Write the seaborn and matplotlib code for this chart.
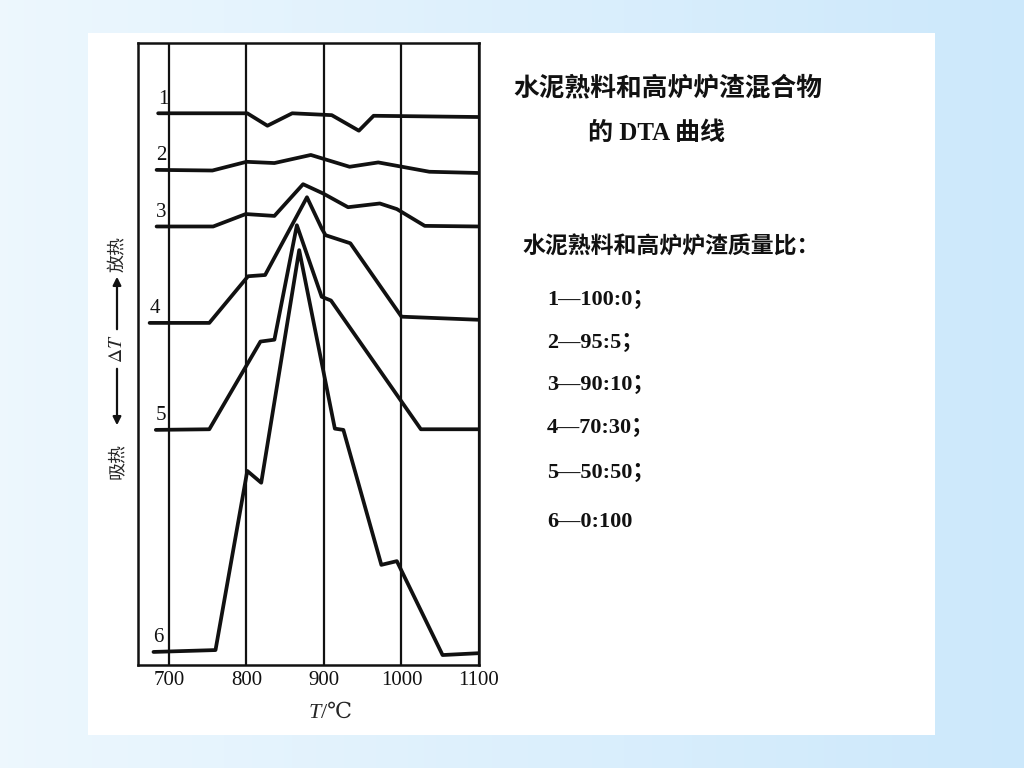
import numpy as np
import pandas as pd
import matplotlib
matplotlib.use('Agg')
import matplotlib.pyplot as plt
from matplotlib.patches import Rectangle
import seaborn as sns

# DTA curves (T in degC, dT in arbitrary offset units 0-100)
t1 = [686, 801, 827, 859, 910, 945, 964, 1100]
d1 = [88.7, 88.7, 86.7, 88.7, 88.4, 85.9, 88.3, 88.1]
t2 = [684, 756, 800, 836, 883, 933, 970, 1036, 1100]
d2 = [79.6, 79.5, 80.9, 80.7, 82.0, 80.1, 80.8, 79.3, 79.1]
t3 = [684, 757, 799, 836, 873, 899, 931, 972, 994, 1030, 1100]
d3 = [70.5, 70.5, 72.5, 72.2, 77.3, 75.8, 73.6, 74.2, 73.3, 70.6, 70.5]
t4 = [675, 752, 802, 824, 878, 897, 902, 934, 1000, 1100]
d4 = [55.0, 55.0, 62.5, 62.7, 75.2, 70.2, 69.1, 67.8, 56.0, 55.5]
t5 = [683, 752, 818, 836, 865, 897, 909, 1025, 1100]
d5 = [37.8, 37.9, 52.0, 52.3, 70.7, 59.2, 58.6, 37.9, 37.9]
t6 = [680, 760, 801, 819, 868, 914, 925, 974, 994, 1053, 1100]
d6 = [2.1, 2.4, 31.2, 29.3, 66.7, 38.0, 37.8, 16.1, 16.7, 1.6, 1.9]

curve_names = ['1', '2', '3', '4', '5', '6']
temps = [t1, t2, t3, t4, t5, t6]
deltas = [d1, d2, d3, d4, d5, d6]

x_ticks = [700, 800, 900, 1000, 1100]
title_lines = ['水泥熟料和高炉炉渣混合物', '的 DTA 曲线']
ratio_title = '水泥熟料和高炉炉渣质量比：'
ratio_items = ['1—100:0；', '2—95:5；', '3—90:10；', '4—70:30；', '5—50:50；', '6—0:100']

rows = []
for name, ts, ds in zip(curve_names, temps, deltas):
    for i, (t, d) in enumerate(zip(ts, ds)):
        rows.append({'curve': name, 'order': i, 'T': t, 'dT': d})
df = pd.DataFrame(rows)

sns.set_style('white')
plt.rcParams['font.family'] = ['Liberation Serif', 'Noto Sans CJK SC', 'DejaVu Sans']
plt.rcParams['mathtext.fontset'] = 'stix'

W, H = 1024, 768
fig = plt.figure(figsize=(W / 100, H / 100), dpi=100)

# slide background: light blue gradient with white panel
bg = fig.add_axes([0, 0, 1, 1], zorder=-5)
c0 = np.array([0.93, 0.97, 0.995])
c1 = np.array([0.80, 0.91, 0.985])
g = np.linspace(0, 1, 256)[None, :, None]
grad = c0 * (1 - g) + c1 * g
bg.imshow(np.repeat(grad, 4, axis=0), extent=(0, W, H, 0), aspect='auto')
bg.add_patch(Rectangle((88, 33), 847, 702, color='white', lw=0))
bg.set_xlim(0, W)
bg.set_ylim(H, 0)
bg.axis('off')

def fx(px):
    return px / W

def fy(py):
    return 1 - py / H

ax = fig.add_axes([fx(138), fy(665), (479 - 138) / W, (665 - 43) / H])
ax.set_facecolor('white')

sns.lineplot(data=df, x='T', y='dT', units='curve', estimator=None, sort=False,
             color='#111111', linewidth=2.7, ax=ax, legend=False)

for name, ts, ds in zip(curve_names, temps, deltas):
    ax.annotate(name, xy=(ts[0], ds[0]), xytext=(5, 14), textcoords='offset pixels',
                ha='center', va='center', fontsize=15, color='#111111')

ax.set_xlim(660, 1100)
ax.set_ylim(0, 100)
ax.set_xticks(x_ticks)
ax.set_yticks([])
ax.xaxis.grid(True, color='#111111', linewidth=1.6)
ax.tick_params(axis='x', length=0, pad=4, labelsize=15, colors='#111111')
for s in ax.spines.values():
    s.set_visible(True)
    s.set_color('#111111')
    s.set_linewidth(1.8)
ax.set_xlabel('')
ax.set_ylabel('')

# x axis label
fig.text(fx(321), fy(713), 'T', style='italic', ha='right', va='center',
         fontsize=16, family='Liberation Serif')
fig.text(fx(321), fy(713), '/℃', ha='left', va='center', fontsize=16,
         family=['Liberation Serif', 'DejaVu Serif', 'Noto Sans CJK SC'])

# y axis annotation
fig.text(fx(117), fy(254), '放热', rotation=90, ha='center', va='center',
         fontsize=13, family=['Noto Sans CJK SC'])
fig.text(fx(117), fy(349), r'$\Delta T$', rotation=90, ha='center', va='center',
         fontsize=14)
fig.text(fx(117), fy(461), '吸热', rotation=90, ha='center', va='center',
         fontsize=13, family=['Noto Sans CJK SC'])
arrow = dict(arrowstyle='-|>', lw=1.6, color='#111111', mutation_scale=12)
ax.annotate('', xy=(117, H - 274), xytext=(117, H - 332), xycoords='figure pixels',
            textcoords='figure pixels', arrowprops=arrow, annotation_clip=False)
ax.annotate('', xy=(117, H - 428), xytext=(117, H - 366), xycoords='figure pixels',
            textcoords='figure pixels', arrowprops=arrow, annotation_clip=False)

# right side text
fig.text(fx(668), fy(88), title_lines[0], ha='center', va='center', fontsize=18.5,
         fontweight='bold', family=['Noto Sans CJK SC'], color='#111111')
fig.text(fx(657), fy(133), title_lines[1], ha='center', va='center', fontsize=18,
         fontweight='bold', family=['Liberation Serif', 'Noto Sans CJK SC'], color='#111111')
fig.text(fx(671), fy(247), ratio_title, ha='center', va='center', fontsize=16.5,
         fontweight='bold', family=['Noto Sans CJK SC'], color='#111111')
item_y = [300, 343, 385, 428, 473, 522]
for txt, yy in zip(ratio_items, item_y):
    fig.text(fx(547), fy(yy), txt, ha='left', va='center', fontsize=16,
             fontweight='bold', family=['Liberation Serif', 'Noto Sans CJK SC'],
             color='#111111')

fig.savefig('out.png', dpi=100)
